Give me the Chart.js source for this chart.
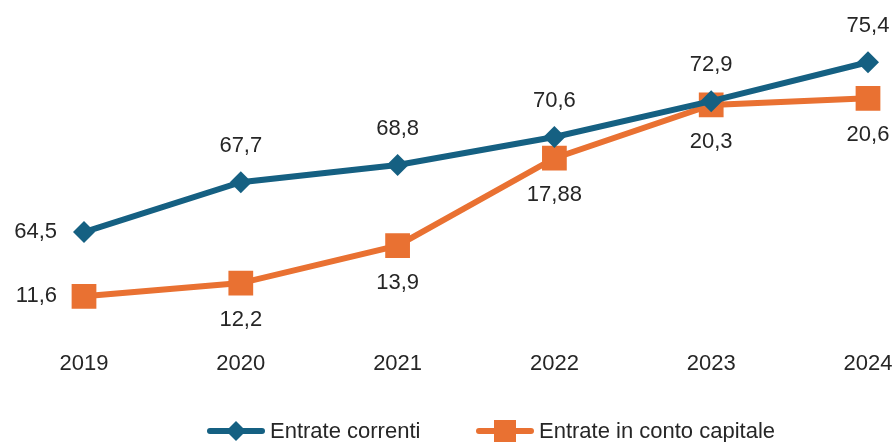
<!DOCTYPE html>
<html>
<head>
<meta charset="utf-8">
<script src="https://cdn.jsdelivr.net/npm/chart.js@4/dist/chart.umd.min.js"></script>
<style>
  html, body { margin: 0; padding: 0; background: #fff; }
  #wrap { width: 896px; height: 442px; }
</style>
</head>
<body>
<div id="wrap"><canvas id="chart"></canvas></div>
<script>
// --- Data ---
const years = ["2019", "2020", "2021", "2022", "2023", "2024"];
const entrateCorrenti = [64.5, 67.7, 68.8, 70.6, 72.9, 75.4];
const entrateCapitale = [11.6, 12.2, 13.9, 17.88, 20.3, 20.6];
const seriesNames = ["Entrate correnti", "Entrate in conto capitale"];

// where each value label sits next to its point
const labelPosCorrenti = ["left", "top", "top", "top", "top", "top"];
const labelPosCapitale = ["left", "bottom", "bottom", "bottom", "bottom", "bottom"];

const BLUE = "#156082";
const ORANGE = "#E97132";
const TEXT = "#262626";
const FONT = "'Liberation Sans', Arial, sans-serif";

function fmt(v) {
  return String(v).replace(".", ",");
}

// --- Value labels ---
const valueLabels = {
  id: "valueLabels",
  afterDatasetsDraw(chart) {
    const ctx = chart.ctx;
    const positions = [labelPosCorrenti, labelPosCapitale];
    ctx.save();
    ctx.font = "22px " + FONT;
    ctx.fillStyle = TEXT;
    ctx.textBaseline = "middle";
    chart.data.datasets.forEach((ds, i) => {
      chart.getDatasetMeta(i).data.forEach((pt, j) => {
        let pos = positions[i][j];
        let x = pt.x, y = pt.y;
        if (pos === "left") {
          ctx.textAlign = "right";
          x -= 27;
        } else if (pos === "top") {
          ctx.textAlign = "center";
          y -= 36;
        } else {
          ctx.textAlign = "center";
          y += 37;
        }
        ctx.fillText(fmt(ds.data[j]), x, y);
      });
    });
    ctx.restore();
  }
};

// --- Legend (line + marker, like the original) ---
const lineLegend = {
  id: "lineLegend",
  afterDraw(chart) {
    const ctx = chart.ctx;
    const y = 431;
    const items = [
      { x: 210, color: BLUE, marker: "diamond", text: seriesNames[0] },
      { x: 479, color: ORANGE, marker: "square", text: seriesNames[1] }
    ];
    ctx.save();
    ctx.font = "22px " + FONT;
    ctx.textBaseline = "middle";
    ctx.textAlign = "left";
    items.forEach((it) => {
      ctx.strokeStyle = it.color;
      ctx.fillStyle = it.color;
      ctx.lineWidth = 6;
      ctx.lineCap = "round";
      ctx.beginPath();
      ctx.moveTo(it.x, y);
      ctx.lineTo(it.x + 52, y);
      ctx.stroke();
      let cx = it.x + 26;
      ctx.beginPath();
      if (it.marker === "diamond") {
        ctx.moveTo(cx, y - 10);
        ctx.lineTo(cx + 10, y);
        ctx.lineTo(cx, y + 10);
        ctx.lineTo(cx - 10, y);
        ctx.closePath();
      } else {
        ctx.rect(cx - 11, y - 11, 22, 22);
      }
      ctx.fill();
      ctx.fillStyle = TEXT;
      ctx.fillText(it.text, it.x + 60, y + 1);
    });
    ctx.restore();
  }
};

// --- Chart ---
const ctx = document.getElementById("chart").getContext("2d");

new Chart(ctx, {
  type: "line",
  data: {
    labels: years,
    datasets: [
      {
        label: seriesNames[0],
        data: entrateCorrenti,
        yAxisID: "y",
        borderColor: BLUE,
        backgroundColor: BLUE,
        borderWidth: 6,
        pointStyle: "rectRot",
        pointRadius: 11,
        pointHoverRadius: 11,
        pointBorderWidth: 0,
        tension: 0
      },
      {
        label: seriesNames[1],
        data: entrateCapitale,
        yAxisID: "y2",
        borderColor: ORANGE,
        backgroundColor: ORANGE,
        borderWidth: 6,
        pointStyle: "rect",
        pointRadius: 17.5,
        pointHoverRadius: 17.5,
        pointBorderWidth: 0,
        tension: 0
      }
    ]
  },
  options: {
    responsive: true,
    maintainAspectRatio: false,
    animation: false,
    layout: { padding: { left: 84, right: 28, top: 20, bottom: 56 } },
    plugins: {
      legend: { display: false },
      tooltip: { enabled: false }
    },
    scales: {
      x: {
        offset: false,
        grid: { display: false, drawTicks: false },
        border: { display: false },
        ticks: {
          color: TEXT,
          padding: 9,
          font: { family: FONT, size: 22 },
          maxRotation: 0
        },
        // let the end labels overhang into the layout padding
        afterFit(scale) {
          scale.paddingLeft = 0;
          scale.paddingRight = 0;
        }
      },
      y: {
        display: false,
        min: 57.47,
        max: 78.11
      },
      y2: {
        display: false,
        min: 9.54,
        max: 24.16
      }
    }
  },
  plugins: [valueLabels, lineLegend]
});
</script>
</body>
</html>
